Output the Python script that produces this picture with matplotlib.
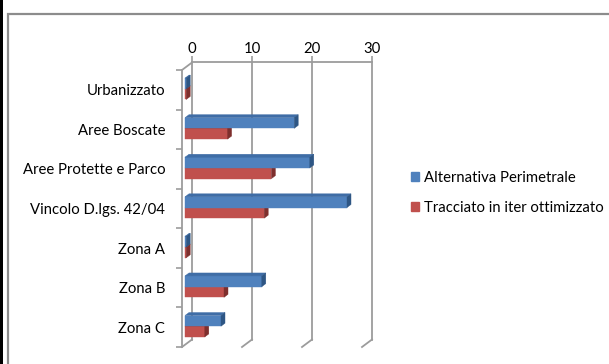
import numpy as np
import matplotlib
matplotlib.use("Agg")
import matplotlib.pyplot as plt
from matplotlib.patches import Polygon, Rectangle, Patch
from matplotlib.lines import Line2D

plt.rcParams['font.family'] = ['Lato', 'DejaVu Sans']

categories = ['Urbanizzato', 'Aree Boscate', 'Aree Protette e Parco',
              'Vincolo D.lgs. 42/04', 'Zona A', 'Zona B', 'Zona C']
perimetrale = [0.2, 18.2, 20.8, 27.0, 0.2, 12.8, 6.0]
ottimizzato = [0.2, 7.1, 14.4, 13.2, 0.2, 6.5, 3.3]
series_names = ['Alternativa Perimetrale', 'Tracciato in iter ottimizzato']
x_ticks = [0, 10, 20, 30]

W, H = 609, 364
fig = plt.figure(figsize=(W / 100, H / 100), dpi=100)
fig.patch.set_facecolor('white')

# page frame: black strip on the left, grey chart border
fig.add_artist(Rectangle((0, 0), 3 / W, 1, transform=fig.transFigure,
                         color='black', lw=0))
fig.add_artist(Rectangle((8 / W, -0.1), 1.2, 1.1 - 14 / H, transform=fig.transFigure,
                         fill=False, ec='#8c8c8c', lw=1.6))

FS = 10.7
GRID = '#9c9c9c'

# back wall: gridlines and value axis on top
back = fig.add_axes([192 / W, 24 / H, 180 / W, 278 / H])
back.set_xlim(0, 30)
back.set_ylim(0, 1)
back.patch.set_alpha(0)
for s in ['left', 'right', 'bottom']:
    back.spines[s].set_visible(False)
back.spines['top'].set_color(GRID)
back.spines['top'].set_linewidth(1.3)
back.xaxis.tick_top()
back.set_xticks(x_ticks)
back.tick_params(axis='x', length=4, width=1.2, color=GRID, pad=0.5,
                 labelsize=FS)
back.set_yticks([])
for v in x_ticks:
    back.axvline(v, color=GRID, lw=1.3, clip_on=False)

# front plane: categories, bars, side wall and floor
ax = fig.add_axes([182 / W, 17 / H, 180 / W, 277 / H])
ax.set_xlim(0, 30)
ax.set_ylim(len(categories) - 0.5, -0.5)
ax.patch.set_alpha(0)
for s in ['top', 'right', 'bottom']:
    ax.spines[s].set_visible(False)
ax.spines['left'].set_color(GRID)
ax.spines['left'].set_linewidth(1.3)
ax.set_xticks([])
y = np.arange(len(categories))
ax.set_yticks(y)
ax.set_yticklabels(categories, fontsize=FS)
ax.set_yticks(np.arange(-0.5, len(categories)), minor=True)
ax.tick_params(axis='y', which='major', length=0, pad=12)
ax.tick_params(axis='y', which='minor', length=4.5, width=1.2, color=GRID)


def px_to_data(dx, dy):
    inv = ax.transData.inverted()
    o = ax.transData.transform((0, 0))
    return inv.transform(o + np.array([dx, dy])) - inv.transform(o)


# connections between front plane and back wall
wx, wy = px_to_data(10, 7.5)
y_top, y_bot = -0.5, len(categories) - 0.5
ax.add_line(Line2D([0, wx], [y_top, y_top + wy], color=GRID, lw=1.3, clip_on=False))
for v in x_ticks:
    ax.add_line(Line2D([v, v + wx], [y_bot, y_bot + wy], color=GRID, lw=1.3,
                       clip_on=False))

# 3-d bars
fx, fy = px_to_data(3, 1)
dx, dy = px_to_data(4, 3)
h = 0.27
styles = [
    ('#4F81BD', '#3F6DA6', '#2E5684'),
    ('#C0504D', '#A8423F', '#7E2F2D'),
]
offsets = [-h, 0]
for k in [1, 0]:
    vals = [perimetrale, ottimizzato][k]
    front, top, side = styles[k]
    for i, v in enumerate(vals):
        yt = y[i] + offsets[k] + fy
        yb = yt + h
        x0 = fx
        ax.barh(yt + h / 2, v, height=h, left=x0, color=front,
                edgecolor=front, lw=0.3, clip_on=False, zorder=3)
        ax.add_patch(Polygon([(x0, yt), (x0 + v, yt), (x0 + v + dx, yt + dy),
                              (x0 + dx, yt + dy)], closed=True, fc=top, ec=top,
                             lw=0.3, clip_on=False, zorder=3))
        ax.add_patch(Polygon([(x0 + v, yt), (x0 + v, yb), (x0 + v + dx, yb + dy),
                              (x0 + v + dx, yt + dy)], closed=True, fc=side,
                             ec=side, lw=0.3, clip_on=False, zorder=3))

handles = [Patch(color=styles[0][0]), Patch(color=styles[1][0])]
fig.legend(handles, series_names, loc='center left',
           bbox_to_anchor=(411 / W, 1 - 193 / H), frameon=False, fontsize=FS,
           handlelength=0.55, handleheight=0.55, handletextpad=0.35,
           labelspacing=1.05, borderpad=0, borderaxespad=0)

fig.savefig('out.png', dpi=100, facecolor='white')
